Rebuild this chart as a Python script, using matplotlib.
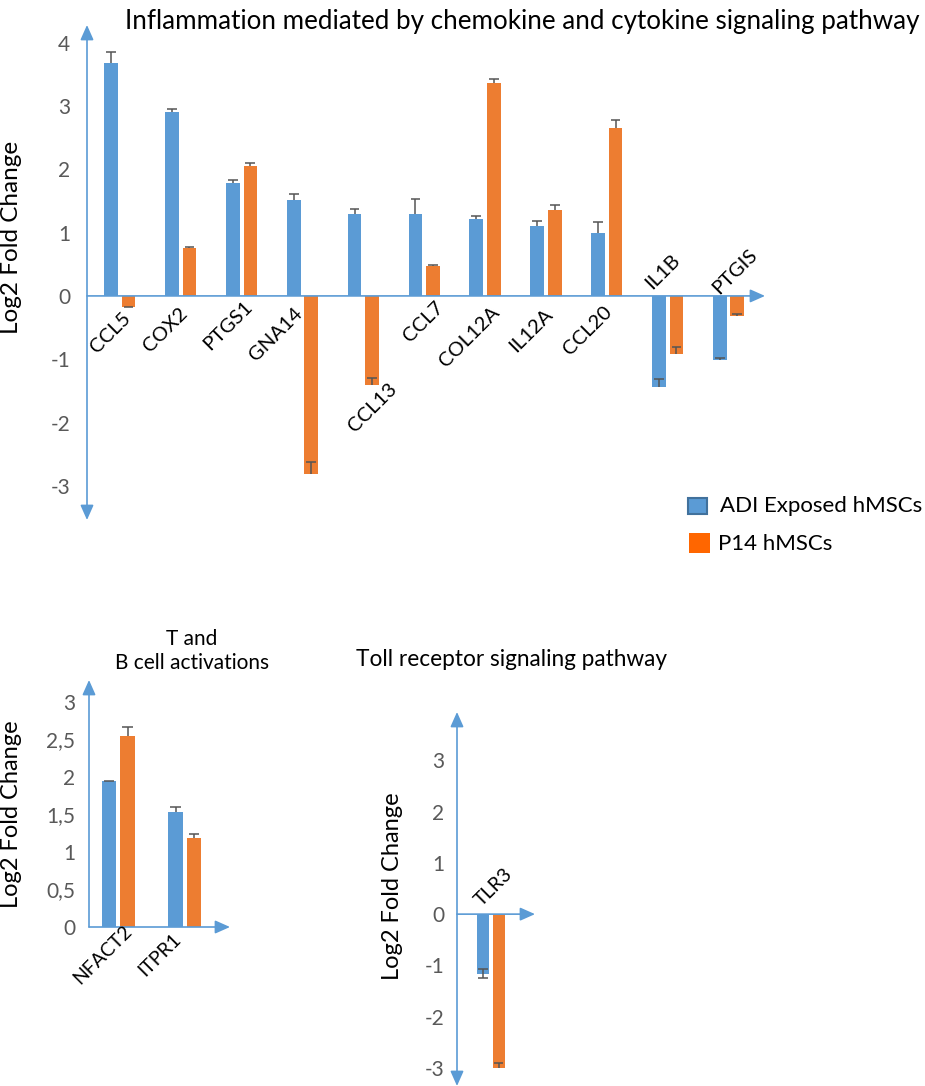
import matplotlib
matplotlib.use("Agg")
import matplotlib.pyplot as plt
from matplotlib.patches import Rectangle
import numpy as np

plt.rcParams['font.family'] = ['Lato', 'DejaVu Sans']
plt.rcParams['axes.unicode_minus'] = False

# ---- data ----
infl_genes = ['CCL5', 'COX2', 'PTGS1', 'GNA14', 'CCL13', 'CCL7',
              'COL12A', 'IL12A', 'CCL20', 'IL1B', 'PTGIS']
infl_adi = [3.68, 2.91, 1.79, 1.51, 1.30, 1.29, 1.21, 1.10, 1.00, -1.44, -1.02]
infl_adi_err = [0.17, 0.05, 0.04, 0.10, 0.08, 0.24, 0.06, 0.09, 0.17, 0.13, 0.04]
infl_p14 = [-0.17, 0.76, 2.05, -2.81, -1.40, 0.48, 3.37, 1.36, 2.65, -0.92, -0.31]
infl_p14_err = [0.0, 0.01, 0.05, 0.18, 0.11, 0.01, 0.06, 0.08, 0.13, 0.11, 0.03]

tb_genes = ['NFACT2', 'ITPR1']
tb_adi = [1.94, 1.53]
tb_adi_err = [0.01, 0.07]
tb_p14 = [2.54, 1.19]
tb_p14_err = [0.13, 0.05]

toll_genes = ['TLR3']
toll_adi = [-1.16]
toll_adi_err = [0.09]
toll_p14 = [-2.99]
toll_p14_err = [0.08]

BLUE = '#5B9BD5'
ORANGE = '#ED7D31'
GREY = '#595959'
ERR = '#555555'

fig = plt.figure(figsize=(9.25, 10.86), dpi=100)
W, H = 925.0, 1086.0


def px_axes(x0, y0, x1, y1):
    # pixel box (top-left origin) -> figure axes
    return fig.add_axes([x0 / W, 1 - y1 / H, (x1 - x0) / W, (y1 - y0) / H])


def arrows(ax, both=True):
    style = '<|-|>' if both else '-|>'
    ax.annotate('', xy=(0, 1), xytext=(0, 0), xycoords='axes fraction',
                arrowprops=dict(arrowstyle=style + ',head_length=0.9,head_width=0.4',
                                color=BLUE, lw=1.2, shrinkA=0, shrinkB=0))
    ax.annotate('', xy=(1, 0), xytext=(0, 0), xycoords=('axes fraction', 'data'),
                arrowprops=dict(arrowstyle='-|>,head_length=0.9,head_width=0.4',
                                color=BLUE, lw=1.2, shrinkA=0, shrinkB=0))


def bars(ax, x, a, ae, p, pe, off, w, cap, both_blue=False):
    x = np.asarray(x, dtype=float)
    a = np.asarray(a); p = np.asarray(p)
    ae = np.asarray(ae); pe = np.asarray(pe)
    ax.bar(x - off, a, w, color=BLUE, zorder=2)
    ax.bar(x + off, p, w, color=ORANGE, zorder=2)
    # plus-direction error bars (blue optionally both ways)
    for xs, v, e, two in ((x - off, a, ae, both_blue), (x + off, p, pe, False)):
        lo = v - e if two else v
        ax.vlines(xs, lo, v + e, color=ERR, lw=1.1, zorder=3)
        ax.hlines(v + e, xs - cap, xs + cap, color=ERR, lw=1.1, zorder=3)
        if two:
            ax.hlines(v - e, xs - cap, xs + cap, color=ERR, lw=1.1, zorder=3)


def style(ax, pad):
    for s in ax.spines.values():
        s.set_visible(False)
    ax.set_xticks([])
    ax.tick_params(axis='y', length=0, pad=pad, labelsize=15, labelcolor=GREY)


# ---- top chart ----
ax1 = px_axes(87, 25, 765, 520)
x1 = np.arange(len(infl_genes))
bars(ax1, x1, infl_adi, infl_adi_err, infl_p14, infl_p14_err, 0.144, 0.225, 0.08)
ax1.set_xlim(-0.54, 10.6)
ax1.set_ylim(-3.54, 4.28)
ax1.set_yticks(range(-3, 5))
style(ax1, 12)
arrows(ax1)
ax1.set_ylabel('Log2 Fold Change', fontsize=17.5)
ax1.yaxis.set_label_coords(-0.096, 0.57)
lab_pos = [(-0.16, -0.58), (0.74, -0.54), (1.77, -0.47), (2.57, -0.60),
           (4.15, -1.77), (4.98, -0.41), (5.74, -0.65), (6.75, -0.54),
           (7.69, -0.55), (8.92, 0.38), (10.1, 0.38)]
for g, (lx, ly) in zip(infl_genes, lab_pos):
    ax1.text(lx, ly, g, rotation=45, ha='center', va='center', fontsize=14.5)
fig.text(522 / W, 1 - 22 / H, 'Inflammation mediated by chemokine and cytokine signaling pathway',
         ha='center', va='center', fontsize=18.7)

# legend
fig.patches.append(Rectangle((688 / W, 1 - 514 / H), 19 / W, 16 / H, transform=fig.transFigure,
                             facecolor=BLUE, edgecolor='#41719C', lw=1.5))
fig.patches.append(Rectangle((689 / W, 1 - 553 / H), 21 / W, 20 / H, transform=fig.transFigure,
                             facecolor='#FF6600', edgecolor='none'))
fig.text(720 / W, 1 - 506 / H, 'ADI Exposed hMSCs', ha='left', va='center', fontsize=16)
fig.text(718 / W, 1 - 544 / H, 'P14 hMSCs', ha='left', va='center', fontsize=16)

# ---- T and B cell panel ----
ax2 = px_axes(89, 680, 230, 927)
x2 = np.arange(len(tb_genes))
bars(ax2, x2, tb_adi, tb_adi_err, tb_p14, tb_p14_err, 0.139, 0.218, 0.08)
ax2.set_xlim(-0.44, 1.68)
ax2.set_ylim(0, 3.29)
ax2.set_yticks([0, 0.5, 1, 1.5, 2, 2.5, 3])
ax2.set_yticklabels(['0', '0,5', '1', '1,5', '2', '2,5', '3'])
style(ax2, 10)
arrows(ax2, both=False)
ax2.set_ylabel('Log2 Fold Change', fontsize=17)
ax2.yaxis.set_label_coords((22 - 89) / 141, (927 - 814) / 247)
for g, lx in zip(tb_genes, [-0.23, 0.63]):
    ax2.text(lx, -0.37, g, rotation=45, ha='center', va='center', fontsize=14)
fig.text(192 / W, 1 - 651 / H, 'T and\nB cell activations', ha='center', va='center',
         fontsize=15, linespacing=1.3)

# ---- Toll receptor panel ----
ax3 = px_axes(457, 712, 535, 1086)
x3 = np.arange(len(toll_genes))
bars(ax3, x3, toll_adi, toll_adi_err, toll_p14, toll_p14_err, 0.146, 0.22, 0.09, both_blue=True)
ax3.set_xlim(-0.64, 0.83)
ax3.set_ylim(-3.35, 3.94)
ax3.set_yticks(range(-3, 4))
style(ax3, 9)
arrows(ax3)
ax3.set_ylabel('Log2 Fold Change', fontsize=17)
ax3.yaxis.set_label_coords((403 - 457) / 78, (1086 - 886) / 374)
ax3.text(0.06, 0.53, toll_genes[0], rotation=45, ha='center', va='center', fontsize=14)
fig.text(512 / W, 1 - 660 / H, 'Toll receptor signaling pathway', ha='center', va='center',
         fontsize=16.3)

fig.savefig('out.png', dpi=100)
